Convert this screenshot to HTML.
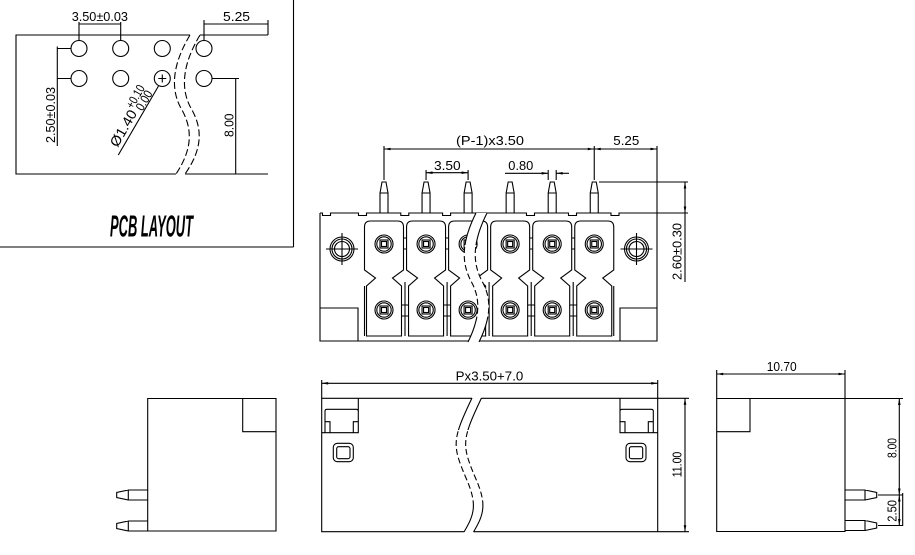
<!DOCTYPE html>
<html><head><meta charset="utf-8"><style>
html,body{margin:0;padding:0;background:#fff;}
svg{display:block;}
text{font-family:"Liberation Sans",sans-serif;fill:#000;stroke:none;}
</style></head><body>
<svg width="915" height="555" viewBox="0 0 915 555" xmlns="http://www.w3.org/2000/svg">
<defs>
<marker id="a" viewBox="0 0 10 4" refX="10" refY="2" markerWidth="7" markerHeight="2.6" orient="auto-start-reverse" markerUnits="userSpaceOnUse"><path d="M0,0 L10,2 L0,4 z" fill="#000"/></marker>
<clipPath id="fT"><rect x="440" y="200" width="70" height="45"/></clipPath>
<clipPath id="fM"><rect x="440" y="245" width="70" height="77"/></clipPath>
<clipPath id="fB"><rect x="440" y="322" width="70" height="30"/></clipPath>
<clipPath id="bT"><rect x="440" y="390" width="70" height="40"/></clipPath>
<clipPath id="bM"><rect x="440" y="430" width="70" height="75"/></clipPath>
<clipPath id="bB"><rect x="440" y="505" width="70" height="35"/></clipPath>
</defs>
<rect width="915" height="555" fill="#fff"/>
<g stroke="#000" fill="none" stroke-width="1.1">

<!-- ============ PCB LAYOUT ============ -->
<line x1="293.5" y1="0" x2="293.5" y2="247"/>
<line x1="0" y1="247" x2="293.5" y2="247"/>
<path d="M190,35 H16 V174 H176 M185,174 H268 M200,35 H268"/>
<path d="M190,35 C172,65 170,90 182,110 C193,130 192,150 176,174" stroke-dasharray="7,3"/>
<path d="M200,35 C182,65 180,90 192,110 C203,130 202,150 185,174" stroke-dasharray="7,3"/>
<circle cx="79" cy="48.5" r="8"/><circle cx="120.7" cy="48.5" r="8"/><circle cx="162.3" cy="48.5" r="8"/><circle cx="204" cy="48.5" r="8"/>
<circle cx="79" cy="78.5" r="8"/><circle cx="120.7" cy="78.5" r="8"/><circle cx="162.3" cy="78.5" r="8"/><circle cx="204" cy="78.5" r="8"/>
<path d="M158.3,78.5 H166.3 M162.3,74.5 V82.5"/>
<path d="M79,22 V40 M120.7,22 V40 M79,24 H120.7"/>
<path d="M204,20 V40 M268,20 V35 M204,24 H268"/>
<path d="M57.3,46.5 V146 M57.3,48.5 H71 M57.3,78.5 H71"/>
<path d="M212,78.5 H239 M235.7,78.5 V174"/>
<path d="M118.3,155 L158.5,86"/>

<!-- ============ FRONT VIEW ============ -->
<path d="M657,146 V341 H320 V213"/>
<path d="M320,213 H322.5 V215.5 H330.5 V213 H358.5 V215.5 H366.5 V213 H400.8 V215.5 H408.8 V213 H442.6 V215.5 H450.6 V213 H526.5 V215.5 H534.5 V213 H568.5 V215.5 H576.5 V213 H611 V215.5 H619 V213 H657"/>
<path d="M320,308 H358 V341 M620,341 V308 H657"/>
<circle cx="342" cy="249" r="12"/><circle cx="342" cy="249" r="10"/><circle cx="342" cy="249" r="7.5"/>
<path d="M326,249 H358 M342,233 V265"/>
<circle cx="636.5" cy="249" r="12"/><circle cx="636.5" cy="249" r="10"/><circle cx="636.5" cy="249" r="7.5"/>
<path d="M620.5,249 H652.5 M636.5,233 V265"/>
<path d="M366.5,336 V286 L375.5,278 L364.5,270 V227 Q364.5,221 370.5,221 H397.5 Q403.5,221 403.5,227 V270 L392.5,278 L401.5,286 V336 Z"/>
<path d="M408.55,336 V286 L417.55,278 L406.55,270 V227 Q406.55,221 412.55,221 H439.55 Q445.55,221 445.55,227 V270 L434.55,278 L443.55,286 V336 Z"/>
<path d="M450.6,336 V286 L459.6,278 L448.6,270 V227 Q448.6,221 454.6,221 H481.6 Q487.6,221 487.6,227 V270 L476.6,278 L485.6,286 V336 Z"/>
<path d="M492.65,336 V286 L501.65,278 L490.65,270 V227 Q490.65,221 496.65,221 H523.65 Q529.65,221 529.65,227 V270 L518.65,278 L527.65,286 V336 Z"/>
<path d="M534.7,336 V286 L543.7,278 L532.7,270 V227 Q532.7,221 538.7,221 H565.7 Q571.7,221 571.7,227 V270 L560.7,278 L569.7,286 V336 Z"/>
<path d="M576.75,336 V286 L585.75,278 L574.75,270 V227 Q574.75,221 580.75,221 H607.75 Q613.75,221 613.75,227 V270 L602.75,278 L611.75,286 V336 Z"/>
<path d="M364.5,286 V336 M613.75,286 V336 M405,282 V336 M447.1,282 V336 M489.1,282 V336 M531.2,282 V336 M573.2,282 V336"/>
<path d="M403.5,238 H406.55 M403.5,249 H406.55 M445.55,238 H448.6 M445.55,249 H448.6 M529.65,238 H532.7 M529.65,249 H532.7 M571.7,238 H574.75 M571.7,249 H574.75"/>
<path d="M401.5,305 H408.55 M401.5,316 H408.55 M443.55,305 H450.6 M443.55,316 H450.6 M527.65,305 H534.7 M527.65,316 H534.7 M569.7,305 H576.75 M569.7,316 H576.75"/>
<g>
<circle cx="384" cy="244" r="9"/><circle cx="384" cy="244" r="7.2"/><rect x="380" y="240" width="8" height="8"/><rect x="381.5" y="241.5" width="5" height="5"/>
<circle cx="384" cy="310" r="9"/><circle cx="384" cy="310" r="7.2"/><rect x="380" y="306" width="8" height="8"/><rect x="381.5" y="307.5" width="5" height="5"/>
<circle cx="426.05" cy="244" r="9"/><circle cx="426.05" cy="244" r="7.2"/><rect x="422.05" y="240" width="8" height="8"/><rect x="423.55" y="241.5" width="5" height="5"/>
<circle cx="426.05" cy="310" r="9"/><circle cx="426.05" cy="310" r="7.2"/><rect x="422.05" y="306" width="8" height="8"/><rect x="423.55" y="307.5" width="5" height="5"/>
<circle cx="468.1" cy="244" r="9"/><circle cx="468.1" cy="244" r="7.2"/><rect x="464.1" y="240" width="8" height="8"/><rect x="465.6" y="241.5" width="5" height="5"/>
<circle cx="468.1" cy="310" r="9"/><circle cx="468.1" cy="310" r="7.2"/><rect x="464.1" y="306" width="8" height="8"/><rect x="465.6" y="307.5" width="5" height="5"/>
<circle cx="510.15" cy="244" r="9"/><circle cx="510.15" cy="244" r="7.2"/><rect x="506.15" y="240" width="8" height="8"/><rect x="507.65" y="241.5" width="5" height="5"/>
<circle cx="510.15" cy="310" r="9"/><circle cx="510.15" cy="310" r="7.2"/><rect x="506.15" y="306" width="8" height="8"/><rect x="507.65" y="307.5" width="5" height="5"/>
<circle cx="552.2" cy="244" r="9"/><circle cx="552.2" cy="244" r="7.2"/><rect x="548.2" y="240" width="8" height="8"/><rect x="549.7" y="241.5" width="5" height="5"/>
<circle cx="552.2" cy="310" r="9"/><circle cx="552.2" cy="310" r="7.2"/><rect x="548.2" y="306" width="8" height="8"/><rect x="549.7" y="307.5" width="5" height="5"/>
<circle cx="594.25" cy="244" r="9"/><circle cx="594.25" cy="244" r="7.2"/><rect x="590.25" y="240" width="8" height="8"/><rect x="591.75" y="241.5" width="5" height="5"/>
<circle cx="594.25" cy="310" r="9"/><circle cx="594.25" cy="310" r="7.2"/><rect x="590.25" y="306" width="8" height="8"/><rect x="591.75" y="307.5" width="5" height="5"/>
</g>
<path d="M380,213 V193 L382,182 H386 L388,193 V213 M380,193 H388"/>
<path d="M422.05,213 V193 L424.05,182 H428.05 L430.05,193 V213 M422.05,193 H430.05"/>
<path d="M464.1,213 V193 L466.1,182 H470.1 L472.1,193 V213 M464.1,193 H472.1"/>
<path d="M506.15,213 V193 L508.15,182 H512.15 L514.15,193 V213 M506.15,193 H514.15"/>
<path d="M548.2,213 V193 L550.2,182 H554.2 L556.2,193 V213 M548.2,193 H556.2"/>
<path d="M590.25,213 V193 L592.25,182 H596.25 L598.25,193 V213 M590.25,193 H598.25"/>
<path d="M476,213 C460,245 462,265 472,283 C482,302 478,322 468,342 L479,342 C489,322 493,302 483,283 C473,265 471,245 487,213 Z" fill="#fff" stroke="none"/>
<g clip-path="url(#fT)"><path d="M476,213 C460,245 462,265 472,283 C482,302 478,322 468,342"/><path d="M487,213 C471,245 473,265 483,283 C493,302 489,322 479,342"/></g>
<g clip-path="url(#fM)" stroke-dasharray="6,3"><path d="M476,213 C460,245 462,265 472,283 C482,302 478,322 468,342"/><path d="M487,213 C471,245 473,265 483,283 C493,302 489,322 479,342"/></g>
<g clip-path="url(#fB)"><path d="M476,213 C460,245 462,265 472,283 C482,302 478,322 468,342"/><path d="M487,213 C471,245 473,265 483,283 C493,302 489,322 479,342"/></g>
<path d="M384,146 V180 M594.25,146 V180"/>
<path d="M384,149 H594.25" marker-start="url(#a)" marker-end="url(#a)"/>
<path d="M594.25,149 H657" marker-start="url(#a)" marker-end="url(#a)"/>
<path d="M426.05,170 V180 M468.1,170 V180"/>
<path d="M426.05,172.7 H468.1" marker-start="url(#a)" marker-end="url(#a)"/>
<path d="M548.2,170 V180 M556.2,170 V180"/>
<path d="M505,173.3 H548.2" marker-end="url(#a)"/>
<path d="M569,173.3 H556.2" marker-end="url(#a)"/>
<path d="M599,182 H688 M657,213 H688"/>
<path d="M685,182 V213" marker-start="url(#a)" marker-end="url(#a)"/>
<path d="M685,213 V282"/>

<!-- ============ LEFT SIDE VIEW ============ -->
<path d="M147.7,398.5 H276 V531 H147.7 Z"/>
<path d="M242.7,398.5 V431.7 H276"/>
<path d="M147.7,490 H128.3 V500 H147.7 M128.3,490 L116.7,492.5 V497.5 L128.3,500"/>
<path d="M147.7,521 H128.3 V531 H147.7 M128.3,521 L116.7,523.5 V528.5 L128.3,531"/>

<!-- ============ BOTTOM MIDDLE VIEW ============ -->
<path d="M472,398.3 H321.7 V531.7 H464 M473.5,531.7 H657.7 V380 M481.5,398.3 H689 M321.7,398.3 V380 M657.7,531.7 H689"/>
<path d="M321.7,383.3 H657.7" marker-start="url(#a)" marker-end="url(#a)"/>
<path d="M685,398.3 V531.7" marker-start="url(#a)" marker-end="url(#a)"/>
<g clip-path="url(#bT)"><path d="M472,398 C452,440 452,445 466,478 C478,505 474,515 464,532"/><path d="M481.5,398 C461.5,440 461.5,445 475.5,478 C487.5,505 483.5,515 473.5,532"/></g>
<g clip-path="url(#bM)" stroke-dasharray="6,3"><path d="M472,398 C452,440 452,445 466,478 C478,505 474,515 464,532"/><path d="M481.5,398 C461.5,440 461.5,445 475.5,478 C487.5,505 483.5,515 473.5,532"/></g>
<g clip-path="url(#bB)"><path d="M472,398 C452,440 452,445 466,478 C478,505 474,515 464,532"/><path d="M481.5,398 C461.5,440 461.5,445 475.5,478 C487.5,505 483.5,515 473.5,532"/></g>
<path d="M358.3,398.3 V432.7 H321.7 M325,432.7 V411.3 Q325,409.3 327,409.3 H356.3 Q358.3,409.3 358.3,411.3 M325,421.7 H330 V432.7 M358.3,421.7 H353.3 V432.7"/>
<path d="M620,398.3 V432.7 H657.7 M653.3,432.7 V411.3 Q653.3,409.3 651.3,409.3 H622 Q620,409.3 620,411.3 M653.3,421.7 H648.3 V432.7 M620,421.7 H625 V432.7"/>
<rect x="333.3" y="443.3" width="20" height="18.4" rx="4"/>
<rect x="336.7" y="446.7" width="13.3" height="12" rx="2"/>
<rect x="626" y="443.3" width="20" height="18.4" rx="4"/>
<rect x="629.4" y="446.7" width="13.3" height="12" rx="2"/>

<!-- ============ RIGHT SIDE VIEW ============ -->
<path d="M716.7,398.5 H845 V531.5 H716.7 Z"/>
<path d="M750,398.5 V431.7 H716.7"/>
<path d="M845,490 H865 V500 H845 M865,490 L876.7,492.5 V497.5 L865,500"/>
<path d="M845,520.5 H865 V530.5 H845 M865,520.5 L876.7,523 V528 L865,530.5"/>
<path d="M716.7,370 V398.5 M845,370 V398.5"/>
<path d="M716.7,374 H845" marker-start="url(#a)" marker-end="url(#a)"/>
<path d="M845,398.5 H903 M878,495 H903 M878,525.5 H903"/>
<path d="M899.3,398.5 V495" marker-start="url(#a)" marker-end="url(#a)"/>
<path d="M899.3,495 V525.5" marker-start="url(#a)" marker-end="url(#a)"/>
<path d="M902.7,493 V526"/>
</g>

<!-- ============ TEXT ============ -->
<g font-size="13">
<text x="71.7" y="21" textLength="56.3" lengthAdjust="spacingAndGlyphs">3.50±0.03</text>
<text x="223" y="21" textLength="27" lengthAdjust="spacingAndGlyphs">5.25</text>
<text transform="translate(55,143) rotate(-90)" textLength="56" lengthAdjust="spacingAndGlyphs">2.50±0.03</text>
<text transform="translate(233.3,137) rotate(-90)" textLength="23.5" lengthAdjust="spacingAndGlyphs">8.00</text>
<g transform="translate(117.5,148) rotate(-60)">
<text x="0" y="0" font-size="14" textLength="40" lengthAdjust="spacingAndGlyphs">Ø1.40</text>
<text x="41" y="-6" font-size="12.5" textLength="25" lengthAdjust="spacingAndGlyphs">+0.10</text>
<text x="44" y="3.5" font-size="12.5" textLength="21" lengthAdjust="spacingAndGlyphs">0.00</text>
</g>
<text x="110" y="236.5" font-size="31" font-style="italic" font-weight="bold" textLength="83" lengthAdjust="spacingAndGlyphs">PCB LAYOUT</text>

<text x="456" y="145" textLength="68" lengthAdjust="spacingAndGlyphs">(P-1)x3.50</text>
<text x="613.3" y="145" textLength="26" lengthAdjust="spacingAndGlyphs">5.25</text>
<text x="434" y="170" textLength="26.7" lengthAdjust="spacingAndGlyphs">3.50</text>
<text x="508.3" y="170" textLength="25" lengthAdjust="spacingAndGlyphs">0.80</text>
<text transform="translate(681.7,280) rotate(-90)" textLength="57" lengthAdjust="spacingAndGlyphs">2.60±0.30</text>

<text x="455.7" y="380.5" textLength="67.6" lengthAdjust="spacingAndGlyphs">Px3.50+7.0</text>
<text transform="translate(681.7,477.3) rotate(-90)" textLength="25.6" lengthAdjust="spacingAndGlyphs">11.00</text>
<text x="766.7" y="371" textLength="30" lengthAdjust="spacingAndGlyphs">10.70</text>
<text transform="translate(896.7,458) rotate(-90)" textLength="20" lengthAdjust="spacingAndGlyphs">8.00</text>
<text transform="translate(896.7,521.7) rotate(-90)" textLength="21.7" lengthAdjust="spacingAndGlyphs">2.50</text>
</g>
</svg>
</body></html>
